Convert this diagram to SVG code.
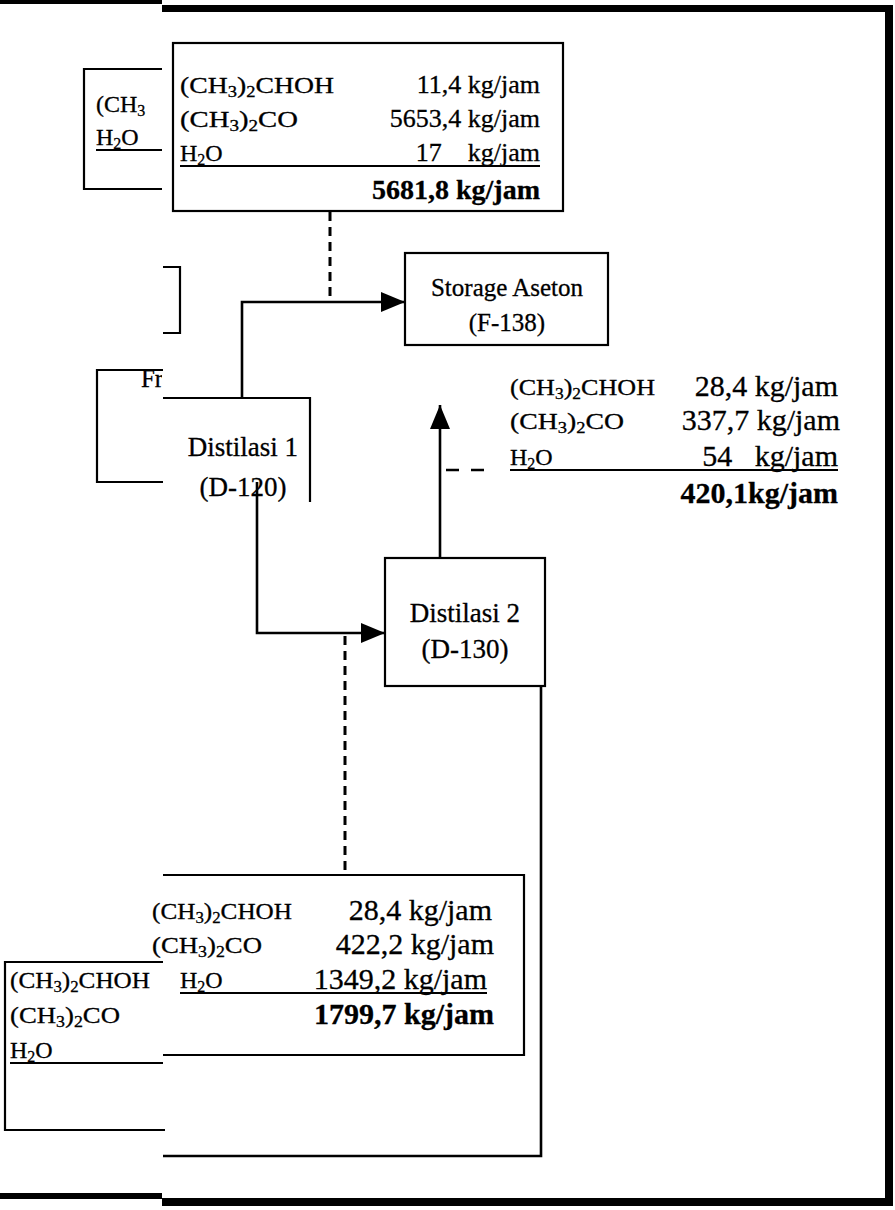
<svg xmlns="http://www.w3.org/2000/svg" width="895" height="1210" viewBox="0 0 895 1210">
<style>
text { font-family: "Liberation Serif", "Times New Roman", serif; fill: #000; stroke: #000; stroke-width: 0.3; }
.form { font-size: 24px; }
.sub { font-size: 16px; }
.num { font-size: 26px; text-anchor: end; }
.numL { font-size: 30px; text-anchor: end; }
.tot { font-size: 28px; font-weight: bold; text-anchor: end; }
.totL { font-size: 30px; font-weight: bold; text-anchor: end; }
.lbl { font-size: 25px; text-anchor: middle; }
.lblD { font-size: 27px; text-anchor: middle; }
.box { fill: none; stroke: #000; stroke-width: 2.2; }
.ln { fill: none; stroke: #000; stroke-width: 2.2; }
.con { fill: none; stroke: #000; stroke-width: 2.6; }
.dash { fill: none; stroke: #000; stroke-width: 3; stroke-dasharray: 9 6; }
.dash2 { fill: none; stroke: #000; stroke-width: 2.5; stroke-dasharray: 13 12; }
.ul { stroke: #000; stroke-width: 2; }
</style>
<defs>
<marker id="ah" markerUnits="userSpaceOnUse" markerWidth="26" markerHeight="20" refX="24" refY="10" orient="auto">
<path d="M0,0 L24,10 L0,20 Z" fill="#000"/>
</marker>
<clipPath id="leftclip"><rect x="0" y="0" width="162" height="1210"/></clipPath>
</defs>
<rect width="895" height="1210" fill="#fff"/>

<g id="page-borders">
<rect x="0" y="0" width="162" height="4" fill="#000"/>
<rect x="162" y="5" width="731" height="7" fill="#000"/>
<rect x="885" y="5" width="8" height="1201" fill="#000"/>
<rect x="162" y="1198" width="731" height="8" fill="#000"/>
<rect x="0" y="1193" width="162" height="6" fill="#000"/>
</g>

<g id="left-box-top">
<polyline class="ln" points="162,69 84,69 84,189 162,189"/>
<g clip-path="url(#leftclip)">
<text class="form" x="96" y="112">(CH<tspan class="sub" dy="4">3</tspan></text>
</g>
<text class="form" x="96" y="145">H<tspan class="sub" dy="4">2</tspan><tspan dy="-4">O</tspan></text>
<line class="ul" x1="96" y1="150" x2="162" y2="150"/>
</g>

<g id="bracket">
<polyline class="ln" points="163,267 180,267 180,333 163,333"/>
</g>

<g id="left-box-fr">
<polyline class="ln" points="163,370 97,370 97,482 163,482"/>
<g clip-path="url(#leftclip)">
<text class="lbl" x="152" y="387">Fr</text>
</g>
</g>

<g id="stream-top">
<rect class="box" x="173" y="43" width="390" height="168"/>
<text class="form" x="180" y="93" textLength="154" lengthAdjust="spacingAndGlyphs">(CH<tspan class="sub" dy="4">3</tspan><tspan dy="-4">)</tspan><tspan class="sub" dy="4">2</tspan><tspan dy="-4">CHOH</tspan></text>
<text class="num" x="540" y="93">11,4 kg/jam</text>
<text class="form" x="180" y="127" textLength="118" lengthAdjust="spacingAndGlyphs">(CH<tspan class="sub" dy="4">3</tspan><tspan dy="-4">)</tspan><tspan class="sub" dy="4">2</tspan><tspan dy="-4">CO</tspan></text>
<text class="num" x="540" y="127">5653,4 kg/jam</text>
<text class="form" x="180" y="161">H<tspan class="sub" dy="4">2</tspan><tspan dy="-4">O</tspan></text>
<text class="num" x="540" y="161" xml:space="preserve">17    kg/jam</text>
<line class="ul" x1="180" y1="166" x2="540" y2="166"/>
<text class="tot" x="540" y="199">5681,8 kg/jam</text>
</g>

<g id="storage-aseton">
<rect class="box" x="405" y="253" width="203" height="92"/>
<text class="lbl" x="507" y="296">Storage Aseton</text>
<text class="lbl" x="507" y="331">(F-138)</text>
</g>

<g id="distilasi-1">
<polyline class="ln" points="163,398 310,398 310,502"/>
<text class="lblD" x="243" y="456">Distilasi 1</text>
<text class="lblD" x="243" y="496">(D-120)</text>
</g>

<g id="stream-right">
<text class="form" x="510" y="395" textLength="145" lengthAdjust="spacingAndGlyphs">(CH<tspan class="sub" dy="4">3</tspan><tspan dy="-4">)</tspan><tspan class="sub" dy="4">2</tspan><tspan dy="-4">CHOH</tspan></text>
<text class="numL" x="838" y="396">28,4 kg/jam</text>
<text class="form" x="510" y="429" textLength="114" lengthAdjust="spacingAndGlyphs">(CH<tspan class="sub" dy="4">3</tspan><tspan dy="-4">)</tspan><tspan class="sub" dy="4">2</tspan><tspan dy="-4">CO</tspan></text>
<text class="numL" x="840" y="430">337,7 kg/jam</text>
<text class="form" x="510" y="465">H<tspan class="sub" dy="4">2</tspan><tspan dy="-4">O</tspan></text>
<text class="numL" x="838" y="466" xml:space="preserve">54   kg/jam</text>
<line class="ul" x1="510" y1="470" x2="838" y2="470"/>
<text class="totL" x="838" y="503">420,1kg/jam</text>
</g>

<g id="distilasi-2">
<rect class="box" x="385" y="558" width="160" height="128"/>
<text class="lblD" x="465" y="622">Distilasi 2</text>
<text class="lblD" x="465" y="658">(D-130)</text>
</g>

<g id="stream-bottom">
<polyline class="ln" points="163,875 524,875 524,1055 163,1055"/>
<text class="form" x="152" y="919" textLength="140" lengthAdjust="spacingAndGlyphs">(CH<tspan class="sub" dy="4">3</tspan><tspan dy="-4">)</tspan><tspan class="sub" dy="4">2</tspan><tspan dy="-4">CHOH</tspan></text>
<text class="numL" x="492" y="920">28,4 kg/jam</text>
<text class="form" x="152" y="953" textLength="110" lengthAdjust="spacingAndGlyphs">(CH<tspan class="sub" dy="4">3</tspan><tspan dy="-4">)</tspan><tspan class="sub" dy="4">2</tspan><tspan dy="-4">CO</tspan></text>
<text class="numL" x="494" y="954">422,2 kg/jam</text>
<text class="form" x="180" y="988">H<tspan class="sub" dy="4">2</tspan><tspan dy="-4">O</tspan></text>
<text class="numL" x="487" y="989">1349,2 kg/jam</text>
<line class="ul" x1="180" y1="993" x2="487" y2="993"/>
<text class="totL" x="494" y="1024">1799,7 kg/jam</text>
</g>

<g id="left-box-bottom">
<polyline class="ln" points="163,962 5,962 5,1130 165,1130"/>
<text class="form" x="10" y="988" textLength="140" lengthAdjust="spacingAndGlyphs">(CH<tspan class="sub" dy="4">3</tspan><tspan dy="-4">)</tspan><tspan class="sub" dy="4">2</tspan><tspan dy="-4">CHOH</tspan></text>
<text class="form" x="10" y="1023" textLength="110" lengthAdjust="spacingAndGlyphs">(CH<tspan class="sub" dy="4">3</tspan><tspan dy="-4">)</tspan><tspan class="sub" dy="4">2</tspan><tspan dy="-4">CO</tspan></text>
<text class="form" x="10" y="1058">H<tspan class="sub" dy="4">2</tspan><tspan dy="-4">O</tspan></text>
<line class="ul" x1="10" y1="1063" x2="163" y2="1063"/>
</g>

<g id="connectors">
<polyline class="con" points="242,398 242,302 405,302" marker-end="url(#ah)"/>
<line class="dash" x1="330" y1="212" x2="330" y2="300"/>
<polyline class="con" points="257,482 257,633 385,633" marker-end="url(#ah)"/>
<line class="con" x1="440" y1="558" x2="440" y2="405" marker-end="url(#ah)"/>
<line class="dash2" x1="446" y1="470" x2="492" y2="470"/>
<line class="dash" x1="345" y1="636" x2="345" y2="874"/>
<polyline class="con" points="541,686 541,1156 163,1156"/>
</g>
</svg>
